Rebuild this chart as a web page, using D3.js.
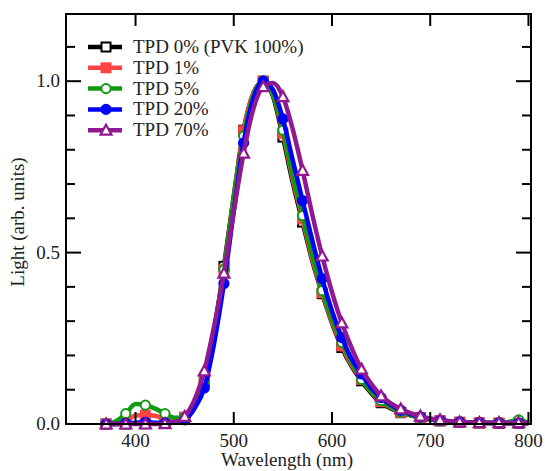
<!DOCTYPE html>
<html>
<head>
<meta charset="utf-8">
<script src="https://cdn.jsdelivr.net/npm/d3@7"></script>
<style>
  body { margin: 0; background: #fff; }
</style>
</head>
<body>
<script>
var width = 545,
    height = 471;

var margin = {left: 66, right: 14, top: 14, bottom: 47};
var fontFamily = "'Liberation Serif', 'Times New Roman', 'DejaVu Serif', serif";

// wavelength grid (nm)
var wavelengths = d3.range(370, 801, 10);
var markerWavelengths = d3.range(370, 800, 20);

var tpd0 = [0, 0, 0, 0.001, 0.001, 0.001, 0.002, 0.005, 0.018, 0.055, 0.125, 0.27, 0.46, 0.665, 0.857, 0.965, 1.0, 0.955, 0.837, 0.705, 0.589, 0.475, 0.38, 0.295, 0.223, 0.168, 0.126, 0.09, 0.062, 0.045, 0.033, 0.025, 0.018, 0.013, 0.009, 0.007, 0.005, 0.004, 0.003, 0.003, 0.002, 0.002, 0.002, 0.002];
var tpd1 = [0, 0.002, 0.008, 0.025, 0.026, 0.024, 0.012, 0.006, 0.02, 0.058, 0.13, 0.275, 0.45, 0.66, 0.855, 0.965, 1.0, 0.96, 0.848, 0.715, 0.598, 0.48, 0.383, 0.298, 0.228, 0.172, 0.13, 0.093, 0.065, 0.047, 0.034, 0.026, 0.019, 0.014, 0.01, 0.007, 0.005, 0.004, 0.003, 0.003, 0.003, 0.003, 0.003, 0.003];
var tpd5 = [0, 0.008, 0.03, 0.058, 0.055, 0.045, 0.03, 0.018, 0.02, 0.055, 0.125, 0.27, 0.45, 0.66, 0.84, 0.96, 1.0, 0.96, 0.857, 0.725, 0.608, 0.49, 0.389, 0.305, 0.238, 0.178, 0.13, 0.095, 0.068, 0.049, 0.035, 0.026, 0.019, 0.014, 0.01, 0.007, 0.006, 0.005, 0.004, 0.004, 0.004, 0.006, 0.012, 0.004];
var tpd20 = [0, 0, 0.002, 0.004, 0.005, 0.004, 0.003, 0.005, 0.012, 0.045, 0.105, 0.235, 0.41, 0.62, 0.82, 0.95, 1.0, 0.975, 0.89, 0.77, 0.652, 0.535, 0.424, 0.33, 0.252, 0.19, 0.146, 0.105, 0.077, 0.056, 0.04, 0.029, 0.021, 0.015, 0.011, 0.008, 0.006, 0.004, 0.004, 0.003, 0.003, 0.003, 0.003, 0.003];
var tpd70 = [0, 0, 0, 0, 0, 0, 0.001, 0.005, 0.022, 0.07, 0.155, 0.285, 0.44, 0.62, 0.79, 0.92, 0.984, 0.995, 0.955, 0.86, 0.74, 0.61, 0.49, 0.385, 0.295, 0.222, 0.16, 0.117, 0.082, 0.06, 0.044, 0.032, 0.023, 0.016, 0.012, 0.008, 0.006, 0.005, 0.004, 0.004, 0.004, 0.004, 0.004, 0.004];

var seriesNames = ["TPD 0% (PVK 100%)", "TPD 1%", "TPD 5%", "TPD 20%", "TPD 70%"];
var seriesValues = [tpd0, tpd1, tpd5, tpd20, tpd70];
var seriesColors = ["#000000", "#ff4444", "#109a10", "#0000ff", "#901890"];
var seriesMarkers = ["square", "squareFilled", "circle", "circleFilled", "triangle"];

var xTicks = [400, 500, 600, 700, 800];
var yMajor = [0, 0.5, 1.0];

var svg = d3.select("body").append("svg")
    .attr("width", width)
    .attr("height", height)
    .attr("font-family", fontFamily)
    .style("font-family", fontFamily);

var x = d3.scaleLinear()
    .domain([329.2, 802.6])
    .range([margin.left, width - margin.right]);

var y = d3.scaleLinear()
    .domain([0, 1.196])
    .range([height - margin.bottom, margin.top]);

var x0 = margin.left, x1 = width - margin.right,
    y0 = height - margin.bottom, y1 = margin.top;

// series
var line = d3.line()
    .x(function(d) { return x(d[0]); })
    .y(function(d) { return y(d[1]); })
    .curve(d3.curveMonotoneX);

function drawMarker(g, kind, color, cx, cy) {
  if (kind === "square" || kind === "squareFilled") {
    g.append("rect")
        .attr("x", cx - 4.5).attr("y", cy - 4.5)
        .attr("width", 9).attr("height", 9)
        .attr("fill", kind === "squareFilled" ? color : "#fff")
        .attr("stroke", color).attr("stroke-width", 2);
  } else if (kind === "circle" || kind === "circleFilled") {
    g.append("circle")
        .attr("cx", cx).attr("cy", cy).attr("r", 4.6)
        .attr("fill", kind === "circleFilled" ? color : "#fff")
        .attr("stroke", color).attr("stroke-width", 2);
  } else {
    g.append("path")
        .attr("d", "M" + cx + "," + (cy - 5.5) + "L" + (cx + 5.5) + "," + (cy + 4.5) + "L" + (cx - 5.5) + "," + (cy + 4.5) + "Z")
        .attr("fill", "#fff")
        .attr("stroke", color).attr("stroke-width", 2.2);
  }
}

var plot = svg.append("g");

seriesValues.forEach(function(vals, i) {
  var pts = wavelengths.map(function(w, j) { return [w, vals[j]]; });
  var g = plot.append("g");
  g.append("path")
      .attr("d", line(pts))
      .attr("fill", "none")
      .attr("stroke", seriesColors[i])
      .attr("stroke-width", 4.5)
      .attr("stroke-linejoin", "round");
  markerWavelengths.forEach(function(w) {
    var j = wavelengths.indexOf(w);
    drawMarker(g, seriesMarkers[i], seriesColors[i], x(w), y(vals[j]));
  });
});

// frame
svg.append("rect")
    .attr("x", x0).attr("y", y1)
    .attr("width", x1 - x0).attr("height", y0 - y1)
    .attr("fill", "none")
    .attr("stroke", "#000")
    .attr("stroke-width", 2);

// x ticks (bottom and top, inward)
var ax = svg.append("g");
xTicks.forEach(function(t) {
  ax.append("line")
      .attr("x1", x(t)).attr("x2", x(t))
      .attr("y1", y0).attr("y2", y0 - 12)
      .attr("stroke", "#000").attr("stroke-width", 2);
  ax.append("line")
      .attr("x1", x(t)).attr("x2", x(t))
      .attr("y1", y1).attr("y2", y1 + 12)
      .attr("stroke", "#000").attr("stroke-width", 2);
  ax.append("text")
      .attr("x", x(t)).attr("y", y0 + 23)
      .attr("text-anchor", "middle")
      .attr("fill", "#222")
      .style("font-size", "19px")
      .text(t);
});

// y ticks (left and right, inward), minor every 0.1
var ay = svg.append("g");
d3.range(0, 12).forEach(function(k) {
  var v = k / 10;
  var major = yMajor.some(function(m) { return Math.abs(m - v) < 1e-9; });
  var len = major ? 15 : 9;
  ay.append("line")
      .attr("x1", x0).attr("x2", x0 + len)
      .attr("y1", y(v)).attr("y2", y(v))
      .attr("stroke", "#000").attr("stroke-width", 2);
  ay.append("line")
      .attr("x1", x1).attr("x2", x1 - len)
      .attr("y1", y(v)).attr("y2", y(v))
      .attr("stroke", "#000").attr("stroke-width", 2);
  if (major) {
    ay.append("text")
        .attr("x", x0 - 6).attr("y", y(v) + 6)
        .attr("text-anchor", "end")
        .attr("fill", "#222")
        .style("font-size", "19px")
        .text(d3.format(".1f")(v));
  }
});

// axis titles
svg.append("text")
    .attr("x", 287).attr("y", 466)
    .attr("text-anchor", "middle")
    .attr("fill", "#222")
    .style("font-size", "19px")
    .text("Wavelength (nm)");

svg.append("text")
    .attr("transform", "translate(24," + 222 + ") rotate(-90)")
    .attr("text-anchor", "middle")
    .attr("fill", "#222")
    .style("font-size", "19px")
    .text("Light (arb. units)");

// legend
var legend = svg.append("g");
seriesNames.forEach(function(name, i) {
  var ly = 47 + i * 20.8;
  legend.append("line")
      .attr("x1", 88).attr("x2", 122)
      .attr("y1", ly).attr("y2", ly)
      .attr("stroke", seriesColors[i]).attr("stroke-width", 4.5);
  drawMarker(legend, seriesMarkers[i], seriesColors[i], 106, ly);
  legend.append("text")
      .attr("x", 133).attr("y", ly + 6)
      .attr("fill", "#222")
      .style("font-size", "19px")
      .text(name);
});
</script>
</body>
</html>
